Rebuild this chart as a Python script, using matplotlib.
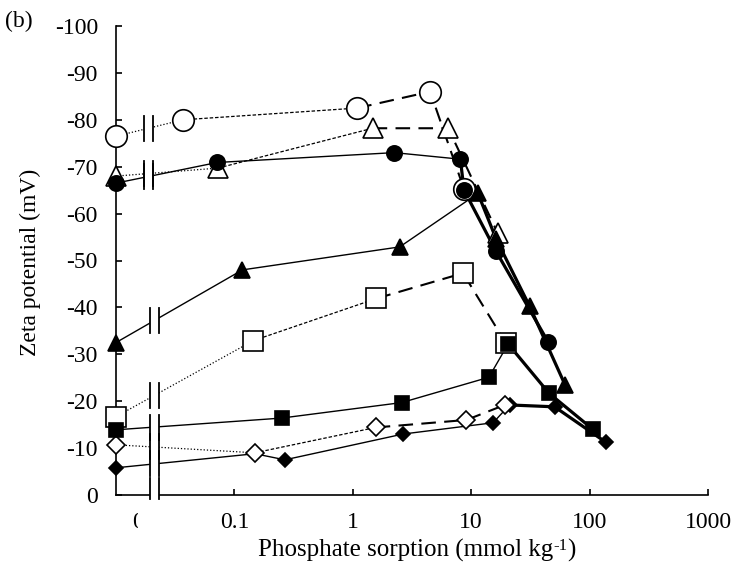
import matplotlib
matplotlib.use('Agg')
import matplotlib.pyplot as plt
from matplotlib.patches import Rectangle
from matplotlib.lines import Line2D
from matplotlib.transforms import IdentityTransform
from matplotlib.ticker import NullLocator

plt.rcParams['font.family'] = ['Liberation Serif', 'DejaVu Serif']
plt.rcParams['axes.unicode_minus'] = False

# ---------------- data (x = phosphate sorption, 0 = no addition) ----------------
oc_x = [0, 0.0367, 1.09, 4.5, 8.7]            # open circles
oc_y = [-76.5, -80.0, -82.5, -86.0, -65.2]
ot_x = [0, 0.0726, 1.47, 6.4, 16.7]           # open triangles
ot_y = [-68.0, -69.7, -78.2, -78.2, -55.9]
fc_x = [0, 0.0716, 2.24, 8.1, 8.7, 16.1, 44.5]        # filled circles
fc_y = [-66.5, -70.9, -73.0, -71.6, -65.0, -52.1, -32.7]
ft_x = [0, 0.117, 2.49, 11.4, 16.3, 31.2, 62.0]       # filled triangles
ft_y = [-32.5, -48.0, -52.9, -64.3, -54.5, -40.2, -23.5]
os_x = [0, 0.144, 1.585, 8.53, 19.5]          # open squares
os_y = [-16.7, -32.9, -41.9, -47.3, -32.5]
fs_x = [0, 0.25, 2.58, 14.1, 20.5, 45.4, 106.6]       # filled squares
fs_y = [-13.9, -16.4, -19.7, -25.1, -32.2, -21.7, -14.0]
od_x = [0, 0.149, 1.56, 9.1, 19.2]            # open diamonds
od_y = [-10.7, -9.0, -14.4, -16.0, -19.2]
fd_x = [0, 0.149, 0.267, 2.66, 15.3, 21.1, 50.7, 138.0]   # filled diamonds
fd_y = [-5.8, -8.8, -7.5, -13.0, -15.4, -19.2, -18.8, -11.2]

x_ticks = [0.1, 1, 10, 100, 1000]
x_tick_labels = ['0.1', '1', '10', '100', '1000']
y_ticks = [0, -10, -20, -30, -40, -50, -60, -70, -80, -90, -100]
y_tick_labels = ['0', '-10', '-20', '-30', '-40', '-50', '-60', '-70', '-80', '-90', '-100']

X0 = 0.01  # axis position used for the "0" sorption value

# ---------------- figure ----------------
W, H = 738, 570
fig = plt.figure(figsize=(W / 100, H / 100), dpi=100)
ax = fig.add_axes([116 / W, 1 - 495 / H, (708 - 116) / W, (495 - 26) / H])
ax.set_xscale('log')
ax.set_xlim(0.01, 1000)
ax.set_ylim(0, -100)

for s in ['top', 'right']:
    ax.spines[s].set_visible(False)
for s in ['left', 'bottom']:
    ax.spines[s].set_linewidth(1.2)

ax.set_xticks(x_ticks)
ax.set_xticklabels(x_tick_labels)
ax.xaxis.set_minor_locator(NullLocator())
ax.set_yticks(y_ticks)
ax.set_yticklabels(y_tick_labels)
ax.tick_params(axis='both', direction='in', length=4, width=1.2, labelsize=17)
ax.tick_params(axis='y', pad=13)
ax.tick_params(axis='x', pad=12)

STY = {
    'dot': dict(lw=0.9, ls=(0, (1, 1.6))),
    'short': dict(lw=0.9, ls=(0, (2.8, 1.5))),
    'long': dict(lw=1.5, ls=(0, (7, 4))),
    'thin': dict(lw=1.0, ls='-'),
    'thick': dict(lw=2.3, ls='-'),
}


def draw_series(xs, ys, segs, marker, ms, filled, zm):
    xp = [X0 if v == 0 else v for v in xs]
    i, n = 0, len(segs)
    while i < n:
        j = i
        while j + 1 < n and segs[j + 1] == segs[i]:
            j += 1
        st = STY[segs[i]]
        ax.plot(xp[i:j + 2], ys[i:j + 2], color='black', lw=st['lw'], linestyle=st['ls'],
                zorder=2, solid_joinstyle='round', dash_capstyle='butt', clip_on=False)
        i = j + 1
    ax.plot(xp, ys, linestyle='none', marker=marker, markersize=ms,
            markerfacecolor='black' if filled else 'white', markeredgecolor='black',
            markeredgewidth=1.2, zorder=zm, clip_on=False)
    return xp


series = [
    (fd_x, fd_y, ['thin'] * 5 + ['thick'] * 2, 'D', 7.6, True, 4.0, 'B'),
    (od_x, od_y, ['dot', 'short', 'long', 'long'], 'D', 9.2, False, 4.2, 'B'),
    (oc_x, oc_y, ['dot', 'short', 'long', 'long'], 'o', 15.5, False, 4.3, 'A'),
    (ot_x, ot_y, ['dot', 'short', 'long', 'long'], '^', 14.5, False, 4.4, 'A'),
    (os_x, os_y, ['dot', 'short', 'long', 'long'], 's', 14.5, False, 4.5, 'B'),
    (fc_x, fc_y, ['thin'] * 3 + ['thick'] * 3, 'o', 11, True, 5.0, 'A'),
    (ft_x, ft_y, ['thin'] * 3 + ['thick'] * 3, '^', 11, True, 5.1, 'B'),
    (fs_x, fs_y, ['thin'] * 4 + ['thick'] * 2, 's', 9.5, True, 5.2, 'B'),
]

# break positions (pixels) of the double bars
BRK = {'A': (143.5, 153.0), 'B': (149.5, 158.5)}
HALF = 12.5


def px(x, y):
    return ax.transData.transform((x, y))


def add_break(x1, x2, y_lo, y_hi):
    ax.add_artist(Rectangle((x1, y_lo), x2 - x1, y_hi - y_lo, facecolor='white',
                            edgecolor='none', transform=IdentityTransform(),
                            zorder=3, clip_on=False))
    for xx in (x1, x2):
        ax.add_artist(Line2D([xx, xx], [y_lo, y_hi], color='black', lw=1.3,
                             transform=IdentityTransform(), zorder=3.1, clip_on=False))


for xs, ys, segs, mk, ms, filled, zm, grp in series:
    xp = draw_series(xs, ys, segs, mk, ms, filled, zm)
    p0 = px(xp[0], ys[0])
    p1 = px(xp[1], ys[1])
    bx1, bx2 = BRK[grp]
    xm = 0.5 * (bx1 + bx2)
    ym_pix = p0[1] + (p1[1] - p0[1]) * (xm - p0[0]) / (p1[0] - p0[0])
    add_break(bx1, bx2, ym_pix - HALF, ym_pix + HALF)

# axis break on the x axis
y_axis_pix = H - 495
add_break(149.5, 158.5, y_axis_pix - 4, y_axis_pix + 17)

# "0" label of the x axis (partly hidden in the original)
fig.text(138 / W, 1 - 523 / H, '0', ha='center', va='center', fontsize=17, zorder=3)
fig.add_artist(Rectangle((137.5 / W, 1 - 540 / H), 14 / W, 30 / H, transform=fig.transFigure,
                         facecolor='white', edgecolor='none', zorder=5))

# x-axis title with a hyphen superscript, assembled from pieces
renderer = fig.canvas.get_renderer()
FS_LAB = 18
pieces = [('Phosphate sorption (mmol kg', FS_LAB, 0), ('-1', 12, 7), (')', FS_LAB, 0)]
texts = []
for s, fs, dy in pieces:
    t = fig.text(0, 0, s, fontsize=fs, ha='left', va='baseline', transform=IdentityTransform())
    texts.append((t, dy))
widths = [t.get_window_extent(renderer).width for t, _ in texts]
total = sum(widths)
x_cur = 417 - total / 2
base = H - 557
for (t, dy), w in zip(texts, widths):
    t.set_position((x_cur, base + dy))
    x_cur += w

fig.text(30 / W, 1 - 262 / H, 'Zeta potential (mV)', ha='center', va='center',
         rotation=90, fontsize=17)
fig.text(5 / W, 1 - 21 / H, '(b)', ha='left', va='center', fontsize=17)

fig.savefig('out.png', dpi=100)
